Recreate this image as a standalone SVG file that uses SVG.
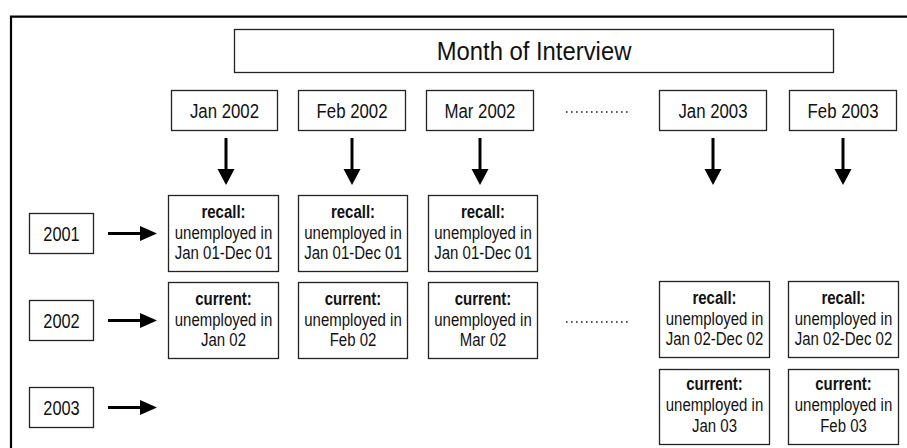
<svg xmlns="http://www.w3.org/2000/svg" width="907" height="448" viewBox="0 0 907 448">
<style>
.bx{fill:#fff;stroke:#222;stroke-width:1.3}
.t{font-family:"Liberation Sans",Arial,sans-serif;fill:#111;text-anchor:middle}
.h{font-size:21px}
.y{font-size:20.5px}
.m{font-size:26.5px}
.d{font-size:18.5px}
.b{font-weight:bold}
.ar{stroke:#000;stroke-width:3;fill:none}
.hd{fill:#000}
.dots{stroke:#222;stroke-width:1.6;stroke-dasharray:1.6 3.4}
</style>
<rect x="0" y="0" width="907" height="448" fill="#fff"/>
<path d="M11,448 V16.7 H907" fill="none" stroke="#000" stroke-width="2.2"/>

<g id="month-of-interview">
<rect class="bx" x="234.5" y="29.5" width="599" height="43"/>
<text class="t m" transform="matrix(0.9,0,0,1,534,0)" x="0" y="60.5">Month of Interview</text>
</g>

<g id="h-jan2002"><rect class="bx" x="171.5" y="90.5" width="106" height="40"/><text class="t h" transform="matrix(0.8,0,0,1,224.5,0)" x="0" y="118">Jan 2002</text></g>
<g id="h-feb2002"><rect class="bx" x="298.5" y="90.5" width="107" height="40"/><text class="t h" transform="matrix(0.8,0,0,1,352,0)" x="0" y="118">Feb 2002</text></g>
<g id="h-mar2002"><rect class="bx" x="426.5" y="90.5" width="107" height="40"/><text class="t h" transform="matrix(0.8,0,0,1,480,0)" x="0" y="118">Mar 2002</text></g>
<g id="h-jan2003"><rect class="bx" x="659.5" y="90.5" width="107" height="40"/><text class="t h" transform="matrix(0.8,0,0,1,713,0)" x="0" y="118">Jan 2003</text></g>
<g id="h-feb2003"><rect class="bx" x="789.5" y="90.5" width="107" height="40"/><text class="t h" transform="matrix(0.8,0,0,1,843,0)" x="0" y="118">Feb 2003</text></g>

<g id="y2001"><rect class="bx" x="29.5" y="213.5" width="64" height="40"/><text class="t y" transform="matrix(0.8,0,0,1,61.5,0)" x="0" y="241">2001</text></g>
<g id="y2002"><rect class="bx" x="29.5" y="300.5" width="64" height="40"/><text class="t y" transform="matrix(0.8,0,0,1,61.5,0)" x="0" y="328">2002</text></g>
<g id="y2003"><rect class="bx" x="29.5" y="387.5" width="64" height="40"/><text class="t y" transform="matrix(0.8,0,0,1,61.5,0)" x="0" y="415">2003</text></g>

<g id="r1c1"><rect class="bx" x="168.5" y="195.5" width="110" height="76"/>
<text class="t d" transform="matrix(0.81,0,0,1,223.5,0)" y="218.5"><tspan class="b" x="0">recall:</tspan><tspan x="0" dy="20.5">unemployed in</tspan><tspan x="0" dy="20.5">Jan 01-Dec 01</tspan></text></g>
<g id="r1c2"><rect class="bx" x="298.5" y="195.5" width="109" height="76"/>
<text class="t d" transform="matrix(0.81,0,0,1,353,0)" y="218.5"><tspan class="b" x="0">recall:</tspan><tspan x="0" dy="20.5">unemployed in</tspan><tspan x="0" dy="20.5">Jan 01-Dec 01</tspan></text></g>
<g id="r1c3"><rect class="bx" x="428.5" y="195.5" width="109" height="76"/>
<text class="t d" transform="matrix(0.81,0,0,1,483,0)" y="218.5"><tspan class="b" x="0">recall:</tspan><tspan x="0" dy="20.5">unemployed in</tspan><tspan x="0" dy="20.5">Jan 01-Dec 01</tspan></text></g>

<g id="r2c1"><rect class="bx" x="168.5" y="282.5" width="110" height="76"/>
<text class="t d" transform="matrix(0.81,0,0,1,223.5,0)" y="305.5"><tspan class="b" x="0">current:</tspan><tspan x="0" dy="20.5">unemployed in</tspan><tspan x="0" dy="20.5">Jan 02</tspan></text></g>
<g id="r2c2"><rect class="bx" x="298.5" y="282.5" width="109" height="76"/>
<text class="t d" transform="matrix(0.81,0,0,1,353,0)" y="305.5"><tspan class="b" x="0">current:</tspan><tspan x="0" dy="20.5">unemployed in</tspan><tspan x="0" dy="20.5">Feb 02</tspan></text></g>
<g id="r2c3"><rect class="bx" x="428.5" y="282.5" width="109" height="76"/>
<text class="t d" transform="matrix(0.81,0,0,1,483,0)" y="305.5"><tspan class="b" x="0">current:</tspan><tspan x="0" dy="20.5">unemployed in</tspan><tspan x="0" dy="20.5">Mar 02</tspan></text></g>
<g id="r2c4"><rect class="bx" x="659.5" y="281.5" width="110" height="76"/>
<text class="t d" transform="matrix(0.81,0,0,1,714.5,0)" y="304.5"><tspan class="b" x="0">recall:</tspan><tspan x="0" dy="20.5">unemployed in</tspan><tspan x="0" dy="20.5">Jan 02-Dec 02</tspan></text></g>
<g id="r2c5"><rect class="bx" x="788.5" y="281.5" width="110" height="76"/>
<text class="t d" transform="matrix(0.81,0,0,1,843.5,0)" y="304.5"><tspan class="b" x="0">recall:</tspan><tspan x="0" dy="20.5">unemployed in</tspan><tspan x="0" dy="20.5">Jan 02-Dec 02</tspan></text></g>

<g id="r3c4"><rect class="bx" x="659.5" y="369.5" width="110" height="75"/>
<text class="t d" transform="matrix(0.81,0,0,1,714.5,0)" y="390"><tspan class="b" x="0">current:</tspan><tspan x="0" dy="21">unemployed in</tspan><tspan x="0" dy="21">Jan 03</tspan></text></g>
<g id="r3c5"><rect class="bx" x="788.5" y="369.5" width="110" height="75"/>
<text class="t d" transform="matrix(0.81,0,0,1,843.5,0)" y="390"><tspan class="b" x="0">current:</tspan><tspan x="0" dy="21">unemployed in</tspan><tspan x="0" dy="21">Feb 03</tspan></text></g>

<g id="connectors">
<line class="dots" x1="566" y1="112" x2="630" y2="112"/>
<line class="dots" x1="566" y1="322" x2="630" y2="322"/>
<g id="down-arrows">
<line class="ar" x1="226" y1="138" x2="226" y2="170"/><path class="hd" d="M217.5,169 H234.5 L226,185 Z"/>
<line class="ar" x1="352" y1="138" x2="352" y2="170"/><path class="hd" d="M343.5,169 H360.5 L352,185 Z"/>
<line class="ar" x1="480" y1="138" x2="480" y2="170"/><path class="hd" d="M471.5,169 H488.5 L480,185 Z"/>
<line class="ar" x1="713" y1="138" x2="713" y2="170"/><path class="hd" d="M704.5,169 H721.5 L713,185 Z"/>
<line class="ar" x1="843" y1="138" x2="843" y2="170"/><path class="hd" d="M834.5,169 H851.5 L843,185 Z"/>
</g>
<g id="right-arrows">
<line class="ar" x1="108" y1="233.5" x2="141" y2="233.5"/><path class="hd" d="M140,226 V241 L157,233.5 Z"/>
<line class="ar" x1="108" y1="320.5" x2="141" y2="320.5"/><path class="hd" d="M140,313 V328 L157,320.5 Z"/>
<line class="ar" x1="108" y1="407.5" x2="141" y2="407.5"/><path class="hd" d="M140,400 V415 L157,407.5 Z"/>
</g>
</g>
</svg>
